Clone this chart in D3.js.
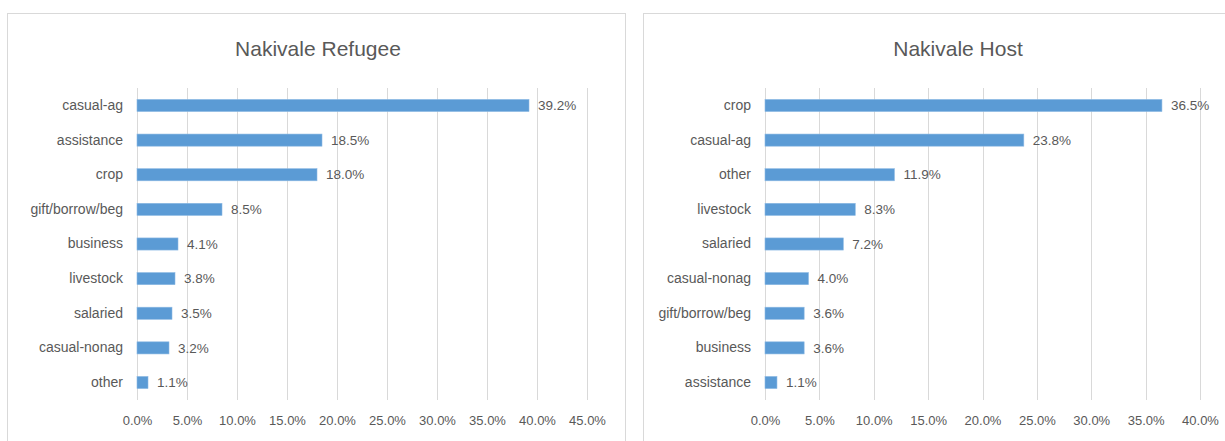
<!DOCTYPE html>
<html>
<head>
<meta charset="utf-8">
<script src="https://cdn.jsdelivr.net/npm/d3@7/dist/d3.min.js"></script>
<style>
  html, body { margin: 0; padding: 0; background: #fff; }
  svg { display: block; }
  text { font-family: "Liberation Sans Narrow", "Liberation Sans", Arial, sans-serif; fill: #595959; }
</style>
</head>
<body>
<svg id="chart" width="1225" height="441"></svg>
<script>
// Main source of livelihood, share of households
const refugeeCategories = ["casual-ag", "assistance", "crop", "gift/borrow/beg", "business", "livestock", "salaried", "casual-nonag", "other"];
const refugeeValues = [39.2, 18.5, 18.0, 8.5, 4.1, 3.8, 3.5, 3.2, 1.1];
const refugeeTicks = [0, 5, 10, 15, 20, 25, 30, 35, 40, 45];

const hostCategories = ["crop", "casual-ag", "other", "livestock", "salaried", "casual-nonag", "gift/borrow/beg", "business", "assistance"];
const hostValues = [36.5, 23.8, 11.9, 8.3, 7.2, 4.0, 3.6, 3.6, 1.1];
const hostTicks = [0, 5, 10, 15, 20, 25, 30, 35, 40];

const svg = d3.select("#chart");
const fmt = d => d.toFixed(1) + "%";
const FONT = '"Liberation Sans Narrow", "Liberation Sans", Arial, sans-serif';

function panel(cfg) {
  const g = svg.append("g");
  // chart frame
  g.append("rect")
    .attr("x", cfg.frameX + 0.5).attr("y", 13.5)
    .attr("width", cfg.frameW).attr("height", 460)
    .attr("fill", "#fff").attr("stroke", "#d9d9d9").attr("stroke-width", 1);

  g.append("text")
    .attr("x", cfg.titleX).attr("y", 56)
    .attr("text-anchor", "middle")
    .style("font-size", "21px")
    .text(cfg.title);

  const x = d3.scaleLinear()
    .domain([0, d3.max(cfg.ticks)])
    .range([cfg.x0, cfg.x1]);

  const y = d3.scaleBand()
    .domain(cfg.categories)
    .range([88, 400])
    .paddingInner(0.65)
    .paddingOuter(0.33);

  // vertical gridlines
  g.append("g").selectAll("line")
    .data(cfg.ticks)
    .join("line")
    .attr("x1", d => Math.round(x(d)) + 0.5)
    .attr("x2", d => Math.round(x(d)) + 0.5)
    .attr("y1", 88).attr("y2", 400)
    .attr("stroke", "#d9d9d9").attr("stroke-width", 1);

  // x axis tick labels
  const xAxis = d3.axisBottom(x)
    .tickValues(cfg.ticks)
    .tickFormat(fmt)
    .tickSize(0)
    .tickPadding(0);
  const ax = g.append("g")
    .attr("transform", "translate(0,416)")
    .call(xAxis);
  ax.select(".domain").remove();
  ax.selectAll("text")
    .style("font-size", "13px")
    .attr("fill", "#595959")
    .style("font-family", FONT);

  // category labels
  const yAxis = d3.axisLeft(y).tickSize(0).tickPadding(14);
  const ay = g.append("g")
    .attr("transform", `translate(${cfg.x0},0)`)
    .call(yAxis);
  ay.select(".domain").remove();
  ay.selectAll("text")
    .style("font-size", "14px")
    .attr("fill", "#595959")
    .style("font-family", FONT);

  const rows = cfg.categories.map((c, i) => ({ c, v: cfg.values[i] }));

  // bars
  g.append("g").selectAll("rect")
    .data(rows)
    .join("rect")
    .attr("x", x(0))
    .attr("y", d => y(d.c))
    .attr("width", d => x(d.v) - x(0))
    .attr("height", y.bandwidth())
    .attr("fill", "#5b9bd5")
    .attr("stroke", "#8db9e3").attr("stroke-width", 0.6);

  // value labels
  g.append("g").selectAll("text")
    .data(rows)
    .join("text")
    .attr("x", d => x(d.v) + 9)
    .attr("y", d => y(d.c) + y.bandwidth() / 2)
    .attr("dy", "0.35em")
    .style("font-size", "13.5px")
    .text(d => fmt(d.v));
}

panel({
  title: "Nakivale Refugee",
  frameX: 7, frameW: 618, titleX: 318,
  x0: 137, x1: 587,
  categories: refugeeCategories, values: refugeeValues, ticks: refugeeTicks
});

panel({
  title: "Nakivale Host",
  frameX: 643, frameW: 630, titleX: 958,
  x0: 765, x1: 1200,
  categories: hostCategories, values: hostValues, ticks: hostTicks
});
</script>
</body>
</html>
